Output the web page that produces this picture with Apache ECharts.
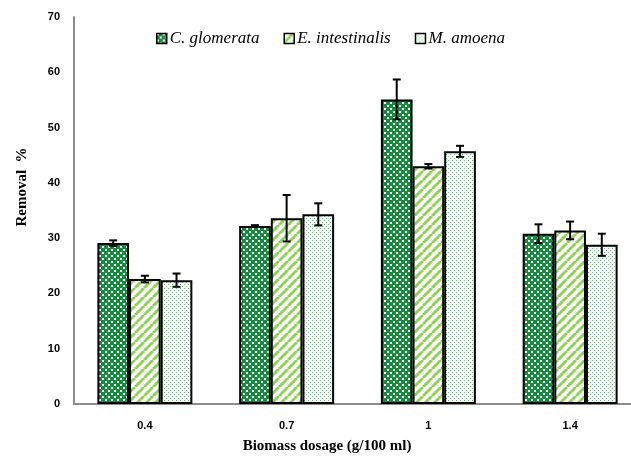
<!DOCTYPE html>
<html><head><meta charset="utf-8">
<script src="https://cdn.jsdelivr.net/npm/echarts@6/dist/echarts.min.js"></script>
<style>html,body{margin:0;padding:0;background:#fff;overflow:hidden}#c{width:631px;height:458px}</style>
</head><body><div id="c"></div>
<script>
const categories = ['0.4', '0.7', '1', '1.4'];
const seriesNames = ['C. glomerata', 'E. intestinalis', 'M. amoena'];
const cGlomerata = [29.1, 32.2, 55.1, 30.8];
const eIntestinalis = [22.6, 33.6, 43.0, 31.4];
const mAmoena = [22.4, 34.3, 45.7, 28.8];
const cGlomerataErr = [0.5, 0.15, 3.6, 1.7];
const eIntestinalisErr = [0.6, 4.2, 0.4, 1.6];
const mAmoenaErr = [1.2, 2.0, 1.0, 2.0];
const yTicks = [0, 10, 20, 30, 40, 50, 60, 70];

function makePattern(kind) {
  const cv = document.createElement('canvas');
  const ctx = cv.getContext('2d');
  if (kind === 0) {
    cv.width = 6; cv.height = 6;
    ctx.fillStyle = '#178c3e'; ctx.fillRect(0, 0, 6, 6);
    ctx.fillStyle = '#ffffff';
    ctx.fillRect(0, 0, 2, 2); ctx.fillRect(3, 3, 2, 2);
  } else if (kind === 1) {
    cv.width = 9; cv.height = 9;
    ctx.fillStyle = '#ffffff'; ctx.fillRect(0, 0, 9, 9);
    ctx.strokeStyle = '#93d258'; ctx.lineWidth = 3;
    for (let k = -1; k <= 1; k++) {
      ctx.beginPath(); ctx.moveTo(k * 9, 9); ctx.lineTo(k * 9 + 9, 0); ctx.stroke();
    }
  } else {
    cv.width = 4; cv.height = 4;
    ctx.fillStyle = '#ffffff'; ctx.fillRect(0, 0, 4, 4);
    ctx.fillStyle = '#5cc470';
    ctx.fillRect(0, 0, 1, 1); ctx.fillRect(2, 2, 1, 1);
  }
  return { image: cv, repeat: 'repeat' };
}

const values = [cGlomerata, eIntestinalis, mAmoena];
const errs = [cGlomerataErr, eIntestinalisErr, mAmoenaErr];
const gapRatio = 0.33;

const barSeries = seriesNames.map((n, i) => ({
  name: n, type: 'bar', data: values[i],
  barGap: '0%', barCategoryGap: '33%',
  itemStyle: { color: makePattern(i), borderColor: '#000', borderWidth: 2 }
}));

const errData = [];
for (let s = 0; s < 3; s++) for (let c = 0; c < categories.length; c++)
  errData.push([c, values[s][c], errs[s][c], s]);

const errSeries = {
  type: 'custom', data: errData, z: 10, silent: true,
  renderItem: function (params, api) {
    const c = api.value(0), v = api.value(1), e = api.value(2), s = api.value(3);
    const band = api.size([1, 0])[0];
    const bw = band * (1 - gapRatio) / 3;
    const ctr = api.coord([c, v]);
    const x = ctr[0] + (s - 1) * bw;
    const top = api.coord([c, v + e])[1];
    const bot = api.coord([c, v - e])[1];
    const cap = 4;
    const st = { stroke: '#000', lineWidth: 2 };
    return { type: 'group', children: [
      { type: 'line', shape: { x1: x, y1: top, x2: x, y2: bot }, style: st },
      { type: 'line', shape: { x1: x - cap, y1: top, x2: x + cap, y2: top }, style: st },
      { type: 'line', shape: { x1: x - cap, y1: bot, x2: x + cap, y2: bot }, style: st }
    ]};
  }
};

const chart = echarts.init(document.getElementById('c'));
chart.setOption({
  animation: false,
  backgroundColor: '#fff',
  grid: { left: 74, width: 567, top: 17, bottom: 54, containLabel: false, outerBoundsMode: 'none' },
  legend: {
    data: seriesNames, top: 25, left: 151, itemWidth: 10, itemHeight: 10, itemGap: 24,
    icon: 'rect',
    itemStyle: { borderColor: '#000', borderWidth: 1.5 },
    textStyle: { fontFamily: 'Liberation Serif', fontStyle: 'italic', fontSize: 17, color: '#000', padding: [0, 0, 0, -2] }
  },
  xAxis: {
    type: 'category', data: categories,
    axisLine: { lineStyle: { color: '#8c8c8c', width: 2 } },
    axisTick: { show: false },
    axisLabel: { fontFamily: 'Liberation Sans', fontWeight: 'bold', fontSize: 11, color: '#000', margin: 16 }
  },
  yAxis: {
    type: 'value', min: 0, max: 70, interval: 10,
    axisLine: { show: true, lineStyle: { color: '#8c8c8c', width: 2 } },
    axisTick: { show: false },
    splitLine: { show: false },
    axisLabel: { fontFamily: 'Liberation Sans', fontWeight: 'bold', fontSize: 11, color: '#000', margin: 14,
      formatter: v => yTicks.includes(v) ? String(v) : '' }
  },
  graphic: [
    { type: 'text', x: 22, y: 187, rotation: Math.PI / 2,
      style: { text: 'Removal  %', fontFamily: 'Liberation Serif', fontWeight: 'bold', fontSize: 15, fill: '#000', align: 'center', verticalAlign: 'middle' } },
    { type: 'text', x: 327, y: 446,
      style: { text: 'Biomass dosage (g/100 ml)', fontFamily: 'Liberation Serif', fontWeight: 'bold', fontSize: 15, fill: '#000', align: 'center', verticalAlign: 'middle' } }
  ],
  series: [...barSeries, errSeries]
});
</script></body></html>
